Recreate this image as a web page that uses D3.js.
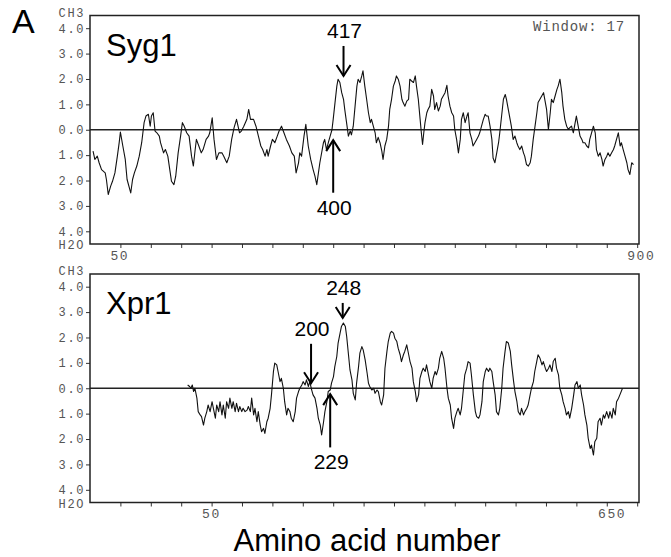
<!DOCTYPE html>
<html>
<head>
<meta charset="utf-8">
<script src="https://cdn.jsdelivr.net/npm/d3@7"></script>
<style>
    body { margin: 0; background: #fff; }
    #chart svg { display: block; }
    .mono { font-family: "Liberation Mono", "Courier New", monospace; font-size: 12px; letter-spacing: 1.6px; fill: #555; }
    .sans { font-family: "Liberation Sans", Arial, sans-serif; fill: #000; }
</style>
</head>
<body>
<div id="chart"></div>
<script>

// ---- data ----

// Syg1 hydropathy (Kyte-Doolittle, window 17)
let sygResidues = [5, 8, 12, 15, 19, 25, 27, 30, 34, 37, 41, 45, 48, 50, 54, 58, 61, 67, 70, 73, 77, 81, 85, 89, 92, 96, 99, 101, 104, 107,
    110, 114, 116, 121, 124, 128, 132, 134, 138, 141, 145, 149, 152, 155, 159, 163, 167, 170, 173, 175, 179, 183, 186, 191, 195, 197,
    201, 204, 208, 212, 217, 220, 225, 229, 233, 237, 241, 246, 249, 253, 258, 261, 264, 269, 273, 277, 281, 284, 288, 291, 293, 297,
    300, 304, 308, 311, 315, 319, 323, 328, 332, 336, 339, 343, 345, 348, 352, 355, 359, 363, 367, 370, 373, 378, 384, 386, 389, 392,
    395, 398, 400, 403, 406, 408, 411, 414, 417, 419, 422, 425, 428, 430, 433, 436, 439, 441, 444, 447, 449, 452, 455, 458, 461, 463,
    466, 469, 471, 474, 477, 480, 482, 485, 488, 491, 493, 496, 499, 502, 504, 507, 510, 513, 515, 518, 521, 524, 526, 529, 532, 535,
    537, 540, 543, 545, 547, 549, 551, 554, 556, 559, 562, 565, 567, 570, 573, 576, 578, 581, 584, 587, 589, 592, 595, 598, 600, 603,
    606, 609, 611, 614, 617, 620, 622, 625, 628, 630, 633, 636, 639, 641, 644, 647, 650, 652, 655, 658, 661, 663, 666, 669, 672, 674,
    677, 680, 683, 685, 688, 691, 693, 696, 699, 702, 704, 707, 710, 713, 715, 718, 721, 724, 726, 729, 732, 735, 737, 740, 743, 746,
    748, 751, 754, 757, 759, 762, 765, 768, 770, 773, 776, 778, 781, 784, 787, 789, 792, 795, 798, 800, 803, 806, 809, 811, 814, 817,
    820, 822, 825, 828, 831, 833, 836, 839, 842, 844, 847, 850, 852, 855, 858, 861, 863, 866, 869, 872, 874, 877, 880, 883, 885, 888,
    891, 894];
let sygValues = [-0.84, -1.17, -1.04, -1.30, -1.57, -1.70, -1.96, -2.55, -2.22, -2.03, -1.70, -1.04, -0.51, -0.09, -0.64, -1.17, -1.96,
    -2.49, -1.96, -1.70, -1.43, -1.04, -0.51, 0.28, 0.54, 0.61, 0.14, 0.54, 0.67, -0.05,
    -0.12, -0.25, -0.51, -0.91, -0.78, -1.04, -1.70, -2.03, -2.16, -1.83, -0.91, -0.25, 0.28, 0.14, -0.12, -0.25, -1.04, -1.43, -0.78,
    -0.38, -0.64, -0.91, -0.78, -0.38, -0.25, -0.12,
    0.47, -0.38, -1.17, -0.91, -0.91, -1.04, -1.30, -1.04, -0.38, 0.08, 0.41, -0.12, -0.05, 0.14, 0.41, 0.80, 0.41, 0.41, 0.14, -0.25,
    -0.64, -0.78, -1.04, -0.78, -1.04, -0.64,
    -0.38, -0.51, -0.25, -0.05, 0.14, -0.12, -0.38, -0.64, -0.91, -1.04, -1.70, -1.30, -0.91, -1.04, -0.25, 0.21, -0.64, -1.17, -1.57,
    -1.83, -2.16, -1.31, -0.51, -0.38, -0.78, -0.51,
    -0.25, 0.00, 0.41, 1.07, 1.72, 1.99, 1.86, 1.46, 1.20, 0.80, 0.28, -0.25, -0.05, -0.20, 0.14, 0.93, 1.72, 1.99, 1.86, 2.12, 2.32,
    1.72, 1.20, 0.67, 0.28, 0.41,
    0.14, -0.12, -0.51, -0.30, -0.51, -0.84, -1.17, -0.64, -0.38, 0.14, 0.80, 1.20, 1.72, 1.92, 2.12, 1.99, 1.72, 1.20, 1.07, 0.93, 1.13,
    1.20, 1.99, 1.92, 1.86, 2.12,
    1.72, 1.20, 0.41, -0.12, -0.58, -0.12, 0.28, 0.67, 0.80, 0.93, 1.59, 1.33, 0.80, 1.07, 0.74, 0.93, 1.20, 1.33, 1.46, 1.75, 1.33,
    0.93, 0.67, 0.54, 0.01, -0.38,
    -0.91, -0.38, 0.41, 0.67, 0.28, 0.54, 0.67, -0.12, -0.38, -0.64, -0.51, -0.38, -0.25, -0.12, 0.14, 0.41, 0.61, 0.54, 0.54, 0.14,
    -0.38, -1.11, -1.30, -0.91, -0.51, -0.12,
    0.54, 1.20, 1.39, 1.20, 0.80, 0.41, 0.14, -0.38, -0.25, -0.51, -0.64, -0.78, -0.64, -0.91, -1.04, -1.37, -1.43, -1.30, -1.04, -0.38,
    0.14, 0.67, 1.07, 1.20, 1.33, 1.46,
    1.20, 0.80, 0.01, 0.67, 1.20, 1.07, 1.33, 1.59, 1.72, 1.99, 1.46, 0.93, 0.41, 0.14, 0.01, 0.08, 0.14, -0.12, 0.28, 0.54, 0.14, -0.25,
    -0.38, -0.51, -0.51, -0.64,
    -0.71, -0.38, -0.12, 0.14, -0.12, -0.78, -1.04, -0.91, -1.17, -1.43, -1.17, -1.04, -0.91, -1.04, -0.91, -0.78, -0.64, -0.38, -0.12,
    -0.64, -0.51, -0.78, -1.04, -1.30, -1.57, -1.76,
    -1.30, -1.37];

// Xpr1 hydropathy
let xprResidues = [13, 16, 18, 20, 22, 24, 27, 29, 32, 34, 37, 39, 42, 44, 47, 50, 52, 55, 57, 60, 62, 65, 67, 70, 72, 75, 77, 80, 82,
    85, 87, 90, 92, 95, 97, 100, 103, 105, 108, 110, 113, 115, 118, 120, 123, 125, 128, 130, 133, 135, 138, 140, 143, 145, 148, 150,
    153, 155, 158, 160, 163, 165, 168, 170, 173, 176, 178, 181, 183, 186, 188, 191, 193, 196, 198, 201, 203, 206, 209, 211, 214, 216,
    219, 221, 224, 226, 229, 231, 234, 236, 239, 241, 244, 246, 249, 252, 254, 257, 259, 262, 264, 267, 269, 272, 274, 277, 279, 282,
    285, 287, 289, 292, 295, 297, 300, 302, 305, 307, 310, 312, 315, 317, 320, 322, 325, 327, 330, 332, 335, 337, 340, 342, 345, 348,
    350, 353, 355, 358, 360, 363, 365, 368, 370, 373, 375, 378, 380, 383, 385, 388, 390, 393, 395, 398, 401, 403, 406, 408, 411, 413,
    416, 418, 421, 423, 426, 428, 431, 433, 436, 438, 441, 443, 446, 449, 451, 454, 456, 459, 461, 464, 466, 469, 471, 474, 476, 479,
    481, 484, 486, 489, 491, 494, 496, 499, 502, 504, 507, 509, 512, 514, 517, 519, 522, 524, 527, 529, 532, 534, 537, 539, 542, 544,
    547, 550, 552, 555, 557, 560, 562, 565, 567, 570, 572, 575, 577, 580, 582, 585, 587, 590, 592, 595, 598, 600, 603, 605, 608, 610,
    613, 615, 618, 620, 623, 625, 628, 630, 633, 635, 638, 640, 643, 645, 648, 651, 653, 656, 658, 661, 663, 666, 668, 672];
let xprValues = [0.13, 0.07, 0.00, 0.13, -0.13, 0.00, -0.39, -0.92, -1.05, -1.12, -1.45, -1.18, -0.92, -0.66, -0.92, -0.53, -0.79,
    -1.18, -0.66, -0.92, -0.53, -1.05, -0.66, -1.18, -0.53, -0.79, -0.39, -0.79, -0.53,
    -0.92, -0.59, -0.92, -0.72, -0.92, -0.79, -0.92, -0.86, -0.72, -0.92, -0.39, -1.05, -0.79, -1.32, -0.92, -1.45, -1.71, -1.58,
    -1.78, -1.32, -1.18, -0.79, -0.26, 0.66, 0.99, 0.92, 0.66,
    0.26, 0.39, 0.00, -0.53, -1.05, -0.79, -0.92, -1.18, -1.32, -0.92, -0.39, -0.13, 0.00, 0.13, 0.26, 0.13, 0.33, 0.07, 0.26, -0.07,
    -0.26, -0.39, -0.79, -1.18, -1.45, -1.84,
    -1.32, -0.92, -0.53, -0.13, -0.07, 0.20, 0.46, 0.85, 1.25, 1.78, 2.17, 2.43, 2.57, 2.43, 2.04, 1.25, 0.72, 0.33, -0.20, -0.46, 0.20,
    0.85, 1.38, 1.64, 1.51, 1.12,
    0.59, 0.20, 0.07, -0.07, 0.00, -0.20, -0.07, -0.13, -0.53, -0.66, -0.26, 0.79, 1.45, 1.84, 2.17, 2.24, 2.17, 1.97, 1.84, 1.58, 1.32,
    1.05, 1.32, 1.45, 1.71, 1.32,
    1.05, 0.79, 0.26, -0.13, -0.53, -0.26, 0.39, 0.66, 0.79, 0.66, 0.92, 0.53, 0.26, 0.00, 0.39, 0.66, 0.53, 0.79, 1.18, 1.45, 1.18, 0.79,
    0.00, -0.39, -0.66, -1.18,
    -1.58, -1.18, -0.92, -0.79, -1.05, -0.79, 0.00, 0.53, 0.79, 1.05, 0.99, 0.53, -0.26, -0.92, -1.12, -1.18, -1.05, -0.53, 0.26, 0.66,
    0.79, 0.66, 0.79, 0.66, 0.26, -0.26,
    -0.92, -1.05, -0.79, 0.00, 0.79, 1.45, 1.84, 1.78, 1.45, 0.92, 0.26, -0.13, -0.53, -0.92, -1.05, -0.79, -1.05, -0.92, -0.79, -0.66,
    -0.26, 0.00, 0.26, 0.66, 1.05, 1.32,
    1.18, 0.92, 1.05, 0.79, 0.66, 0.79, 0.92, 0.66, 1.05, 1.18, 0.79, 0.53, 0.00, -0.26, -0.53, -0.79, -1.05, -0.92, -1.18, -0.79, -0.26,
    0.13, 0.26, 0.00, 0.13, -0.26,
    -0.66, -1.05, -1.45, -1.97, -2.37, -2.24, -2.63, -2.11, -1.97, -1.32, -1.18, -1.45, -1.05, -1.18, -0.92, -1.18, -0.92, -1.18, -0.79,
    -1.05, -0.53, -0.39, -0.26, 0.00];

// axis settings
let yTicks = [-4, -3, -2, -1, 0, 1, 2, 3, 4];
let sygDomain = [0, 903];
let xprDomain = [-135, 697];
let sygTicks = d3.range(50, 901, 50);
let sygEndLabels = [50, 900];
let xprEndLabels = [50, 650];

// arrows: residue, tail value, tip value
let sygMarkRes = [417, 400];
let sygMarkTail = [3.3, -2.48];
let sygMarkTip = [2.12, -0.41];
let xprMarkRes = [248, 200, 229];
let xprMarkTail = [3.36, 1.75, -2.33];
let xprMarkTip = [2.77, 0.2, -0.23];


class HydroPanel {

    constructor(svg, top, title, residues, values, domain, endLabels, markRes, markTail, markTip) {
        this.svg = svg;
        this.top = top;
        this.title = title;
        this.data = residues.map((r, i) => ({ res: r, val: values[i] }));
        this.domain = domain;
        this.endLabels = endLabels;
        this.marks = markRes.map((r, i) => ({ res: r, tail: markTail[i], tip: markTip[i] }));

        this.initVis();
    }

    initVis() {
        let vis = this;

        // frame position
        vis.left = 90;
        vis.width = 549;
        vis.height = 228.5;

        vis.g = vis.svg.append("g")
            .attr("transform", "translate(" + vis.left + "," + vis.top + ")");

        vis.x = d3.scaleLinear().domain(vis.domain).range([0, vis.width]);
        vis.y = d3.scaleLinear().domain([-4.5, 4.5]).range([vis.height, 0]);

        // the minor ticks sit on the same grid in both panels
        let xRef = d3.scaleLinear().domain(sygDomain).range([0, vis.width]);
        vis.xTickValues = sygTicks.map(v => vis.x.invert(xRef(v)));

        vis.updateVis();
    }

    updateVis() {
        let vis = this;

        // y axis
        let yAxis = vis.g.append("g")
            .call(d3.axisLeft(vis.y).tickValues(yTicks).tickSize(4).tickPadding(1)
                .tickFormat(d => Math.abs(d).toFixed(1)));
        yAxis.select(".domain").remove();
        yAxis.selectAll("line").attr("stroke", "#333");
        yAxis.selectAll("text").attr("class", "mono");

        vis.g.append("text").attr("class", "mono")
            .attr("x", -5).attr("y", vis.y(4.5) - 3).attr("dy", "0.35em")
            .attr("text-anchor", "end").text("CH3");
        vis.g.append("text").attr("class", "mono")
            .attr("x", -5).attr("y", vis.y(-4.5) + 1.2).attr("dy", "0.35em")
            .attr("text-anchor", "end").text("H2O");

        // x axis, ticks only
        let xAxis = vis.g.append("g")
            .attr("transform", "translate(0," + vis.height + ")")
            .call(d3.axisBottom(vis.x).tickValues(vis.xTickValues).tickSize(4).tickFormat(""));
        xAxis.select(".domain").remove();
        xAxis.selectAll("line").attr("stroke", "#333");

        vis.g.selectAll(".end-label")
            .data(vis.endLabels)
            .enter().append("text")
            .attr("class", "mono end-label")
            .attr("x", d => vis.x(d) - 10)
            .attr("y", vis.height + 11)
            .attr("dy", "0.35em")
            .style("font-size", "13px")
            .text(d => d);

        // zero line
        vis.g.append("line")
            .attr("x1", 0).attr("x2", vis.width)
            .attr("y1", vis.y(0)).attr("y2", vis.y(0))
            .attr("stroke", "#222").attr("stroke-width", 1.5);

        // profile
        let line = d3.line().x(d => vis.x(d.res)).y(d => vis.y(d.val));
        vis.g.append("path")
            .datum(vis.data)
            .attr("d", line)
            .attr("fill", "none")
            .attr("stroke", "#111")
            .attr("stroke-width", 1.1)
            .attr("stroke-linejoin", "round");

        // frame
        vis.g.append("rect")
            .attr("width", vis.width).attr("height", vis.height)
            .attr("fill", "none").attr("stroke", "#222").attr("stroke-width", 1.5);

        // title
        vis.g.append("text").attr("class", "sans")
            .attr("x", 16).attr("y", 40)
            .attr("font-size", 31)
            .text(vis.title);

        // arrows + labels
        vis.marks.forEach(m => {
            let ax = vis.x(m.res);
            let yTail = vis.y(m.tail);
            let yTip = vis.y(m.tip);
            let dir = yTip > yTail ? 1 : -1;   // 1 = points down

            vis.g.append("line")
                .attr("x1", ax).attr("x2", ax).attr("y1", yTail).attr("y2", yTip)
                .attr("stroke", "#000").attr("stroke-width", 2);
            vis.g.append("path")
                .attr("d", "M" + (ax - 7) + "," + (yTip - dir * 11) + "L" + ax + "," + yTip + "L" + (ax + 7) + "," + (yTip - dir * 11))
                .attr("fill", "none").attr("stroke", "#000").attr("stroke-width", 2);
            vis.g.append("text").attr("class", "sans")
                .attr("x", ax + 1)
                .attr("y", dir === 1 ? yTail - 8 : yTail + 22)
                .attr("text-anchor", "middle")
                .attr("font-size", 21)
                .text(m.res);
        });
    }
}


let svg = d3.select("#chart").append("svg")
    .attr("width", 671)
    .attr("height", 557);

let sygPanel = new HydroPanel(svg, 15.5, "Syg1", sygResidues, sygValues, sygDomain, sygEndLabels,
    sygMarkRes, sygMarkTail, sygMarkTip);
let xprPanel = new HydroPanel(svg, 274, "Xpr1", xprResidues, xprValues, xprDomain, xprEndLabels,
    xprMarkRes, xprMarkTail, xprMarkTip);

// window size note
svg.append("text").attr("class", "mono")
    .attr("x", 625).attr("y", 31)
    .attr("text-anchor", "end")
    .style("font-size", "14px")
    .style("letter-spacing", "0.8px")
    .text("Window: 17");

// panel letter
svg.append("text").attr("class", "sans")
    .attr("x", 12).attr("y", 33)
    .attr("font-size", 34)
    .text("A");

// shared x title
svg.append("text").attr("class", "sans")
    .attr("x", 367).attr("y", 551)
    .attr("text-anchor", "middle")
    .attr("font-size", 31)
    .text("Amino acid number");

</script>
</body>
</html>
